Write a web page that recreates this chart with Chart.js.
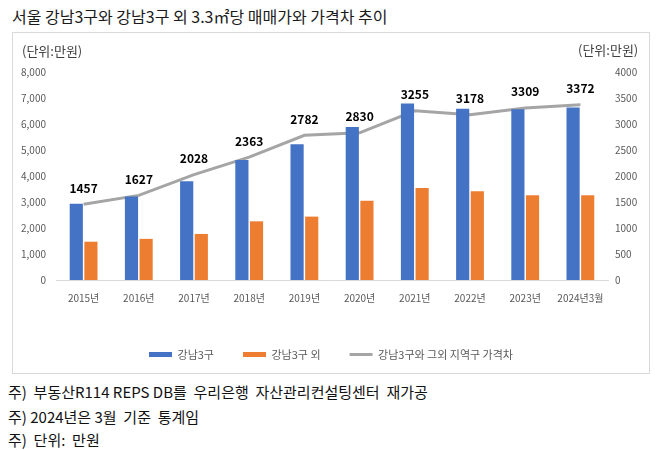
<!DOCTYPE html>
<html>
<head>
<meta charset="utf-8">
<script src="https://cdn.jsdelivr.net/npm/chart.js@4.4.1/dist/chart.umd.min.js"></script>
<style>
  html, body { margin: 0; padding: 0; background: #fff; }
  body { width: 658px; height: 450px; position: relative; overflow: hidden; font-family: "Noto Sans CJK KR", "Noto Sans", sans-serif; }
  #title { position: absolute; left: 12px; top: 4px; font-size: 16px; color: #1a1a1a; white-space: pre; }
  #box { position: absolute; left: 12px; top: 32px; width: 638px; height: 342px; border: 1px solid #d9d9d9; box-sizing: border-box; }
  #box canvas { position: absolute; left: 0; top: 0; }
  .unit { position: absolute; font-size: 13px; color: #404040; }
  .note { position: absolute; left: 8px; font-size: 15px; color: #111; white-space: pre; }
</style>
</head>
<body>
<div id="title">서울 강남3구와 강남3구 외 3.3㎡당 매매가와 가격차 추이</div>
<div id="box"><canvas id="c"></canvas></div>
<div class="unit" style="left:22px; top:41px;">(단위:만원)</div>
<div class="unit" style="left:578px; top:40px;">(단위:만원)</div>
<div class="note" style="top:381px;">주)  부동산R114 REPS DB를  우리은행  자산관리컨설팅센터  재가공</div>
<div class="note" style="top:406px;">주) 2024년은 3월  기준  통계임</div>
<div class="note" style="top:429px;">주)  단위:  만원</div>
<script>
const categories = ['2015년','2016년','2017년','2018년','2019년','2020년','2021년','2022년','2023년','2024년3월'];
const gangnam3 = [2930, 3210, 3800, 4620, 5220, 5880, 6790, 6590, 6565, 6630];
const others = [1473, 1583, 1772, 2257, 2438, 3050, 3535, 3412, 3256, 3258];
const priceGap = [1457, 1627, 2028, 2363, 2782, 2830, 3255, 3178, 3309, 3372];
const seriesNames = ['강남3구', '강남3구 외', '강남3구와 그외 지역구 가격차'];

const FONT = '"Noto Sans CJK KR", "Noto Sans", sans-serif';

const gapLabels = {
  id: 'gapLabels',
  afterDatasetsDraw(chart) {
    const meta = chart.getDatasetMeta(2);
    const ctx = chart.ctx;
    ctx.save();
    ctx.font = 'bold 12px ' + FONT;
    ctx.fillStyle = '#000';
    ctx.textAlign = 'center';
    ctx.textBaseline = 'middle';
    meta.data.forEach((pt, i) => {
      ctx.fillText(String(priceGap[i]), pt.x, pt.y - 16);
    });
    ctx.restore();
  }
};

// keep the legend box compact even with wide horizontal item spacing
const legendHeightFix = {
  id: 'legendHeightFix',
  beforeLayout(chart) {
    const lg = chart.legend;
    if (lg && !lg._fixed) {
      const orig = lg.fit.bind(lg);
      lg.fit = function () { orig(); this.height = 37; };
      lg.draw = function () { if (this.options.display) this._draw(); };
      lg._fixed = true;
    }
  }
};

new Chart(document.getElementById('c'), {
  type: 'bar',
  data: {
    labels: categories,
    datasets: [
      { label: seriesNames[0], data: gangnam3, backgroundColor: '#4472C4', yAxisID: 'y',
        barPercentage: 0.9, categoryPercentage: 0.53 },
      { label: seriesNames[1], data: others, backgroundColor: '#ED7D31', yAxisID: 'y',
        barPercentage: 0.9, categoryPercentage: 0.53 },
      { type: 'line', label: seriesNames[2], data: priceGap, borderColor: '#A5A5A5', backgroundColor: '#A5A5A5',
        borderWidth: 3, pointRadius: 0, tension: 0, yAxisID: 'y1' }
    ]
  },
  options: {
    responsive: true,
    maintainAspectRatio: false,
    animation: false,
    layout: { padding: { top: 39, left: 0, right: 0, bottom: 16 } },
    plugins: {
      tooltip: { enabled: false },
      legend: {
        position: 'bottom',
        labels: {
          font: { family: FONT, size: 11 },
          color: '#595959',
          usePointStyle: true,
          pointStyleWidth: 23,
          boxHeight: 5,
          padding: 29,
          sort: (a, b) => a.datasetIndex - b.datasetIndex,
          generateLabels(chart) {
            const items = Chart.defaults.plugins.legend.labels.generateLabels(chart);
            items.forEach(it => {
              const i = it.datasetIndex;
              if (i < 2) { it.pointStyle = 'rect'; it.lineWidth = 0; it.fillStyle = i === 0 ? '#4472C4' : '#ED7D31'; it.strokeStyle = it.fillStyle; }
              else { it.pointStyle = 'line'; it.lineWidth = 3; it.strokeStyle = '#A5A5A5'; it.fillStyle = '#A5A5A5'; }
            });
            return items;
          }
        }
      }
    },
    scales: {
      x: {
        grid: { display: false, drawTicks: false },
        border: { display: true, color: '#d9d9d9', width: 1 },
        ticks: { font: { family: FONT, size: 10 }, color: '#595959', padding: 12, maxRotation: 0, autoSkip: false },
        afterFit(s) { s.height = 40; }
      },
      y: {
        position: 'left',
        min: 0, max: 8000,
        ticks: { stepSize: 1000, font: { family: FONT, size: 10 }, color: '#595959', padding: 10,
          callback: v => v.toLocaleString('en-US') },
        grid: { display: false, drawTicks: false },
        border: { display: false },
        afterFit(s) { s.width = 43; }
      },
      y1: {
        position: 'right',
        min: 0, max: 4000,
        ticks: { stepSize: 500, font: { family: FONT, size: 10 }, color: '#595959', padding: 7,
          callback: v => String(v) },
        grid: { display: false, drawTicks: false },
        border: { display: false },
        afterFit(s) { s.width = 41; }
      }
    }
  },
  plugins: [gapLabels, legendHeightFix]
});
</script>
</body>
</html>
